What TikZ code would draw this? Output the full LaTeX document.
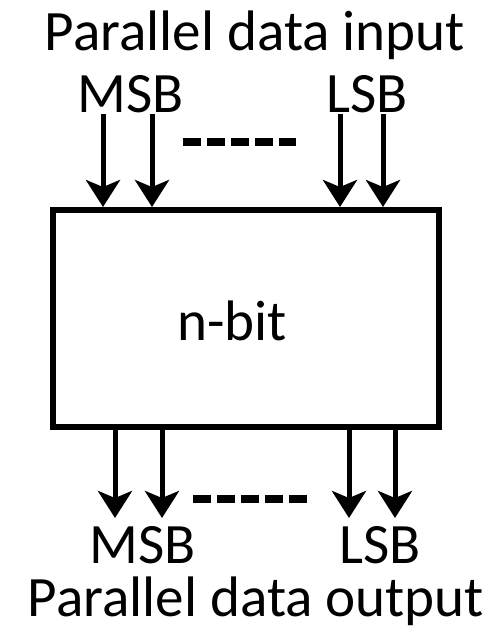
\documentclass[tikz,border=0pt]{standalone}
\usepackage{fontspec}
\setmainfont{Carlito}
\usetikzlibrary{arrows.meta}

\begin{document}
\begin{tikzpicture}[
  x=0.02cm, y=-0.02cm,
  font=\fontsize{32.5}{38}\selectfont,
  regbox/.style={draw, line width=0.12cm, minimum width=7.72cm,
                 minimum height=4.34cm, inner sep=0pt},
  lbl/.style={anchor=base, inner sep=0pt},
  bit/.style={-{Stealth[length=0.54cm, width=0.68cm, inset=0.14cm]},
              line width=0.1cm},
  dots/.style={line width=0.16cm, dash pattern=on 0.36cm off 0.12cm},
]
\useasboundingbox (0,0) rectangle (494,633);

% ---------- register ----------
\node[regbox] (reg) at (246,318.5) {};
\node[lbl] (nbit) at (232,340) {n-bit};

% ---------- input side ----------
\node[lbl] (tin) at (255,50) {Parallel data input};
\node[lbl] (msbin) at (131,112) {MSB};
\node[lbl] (lsbin) at (367,112) {LSB};

\coordinate (i1) at (103,114);
\coordinate (i2) at (152,114);
\coordinate (i3) at (340,114);
\coordinate (i4) at (383,114);
\foreach \i in {i1,i2,i3,i4}
  \draw[bit] (\i) -- (\i |- reg.north);

\coordinate (dina) at (183,142);
\coordinate (dinb) at (296,142);
\draw[dots] (dina) -- (dinb);

% ---------- output side ----------
\coordinate (o1) at (115,518);
\coordinate (o2) at (162,518);
\coordinate (o3) at (349,518);
\coordinate (o4) at (395,518);
\foreach \o in {o1,o2,o3,o4}
  \draw[bit] (\o |- reg.south) -- (\o);

\coordinate (douta) at (193,499);
\coordinate (doutb) at (307,499);
\draw[dots] (douta) -- (doutb);

\node[lbl] (msbout) at (143,563) {MSB};
\node[lbl] (lsbout) at (380,563) {LSB};
\node[lbl] (tout) at (256,616) {Parallel data output};

\end{tikzpicture}
\end{document}
